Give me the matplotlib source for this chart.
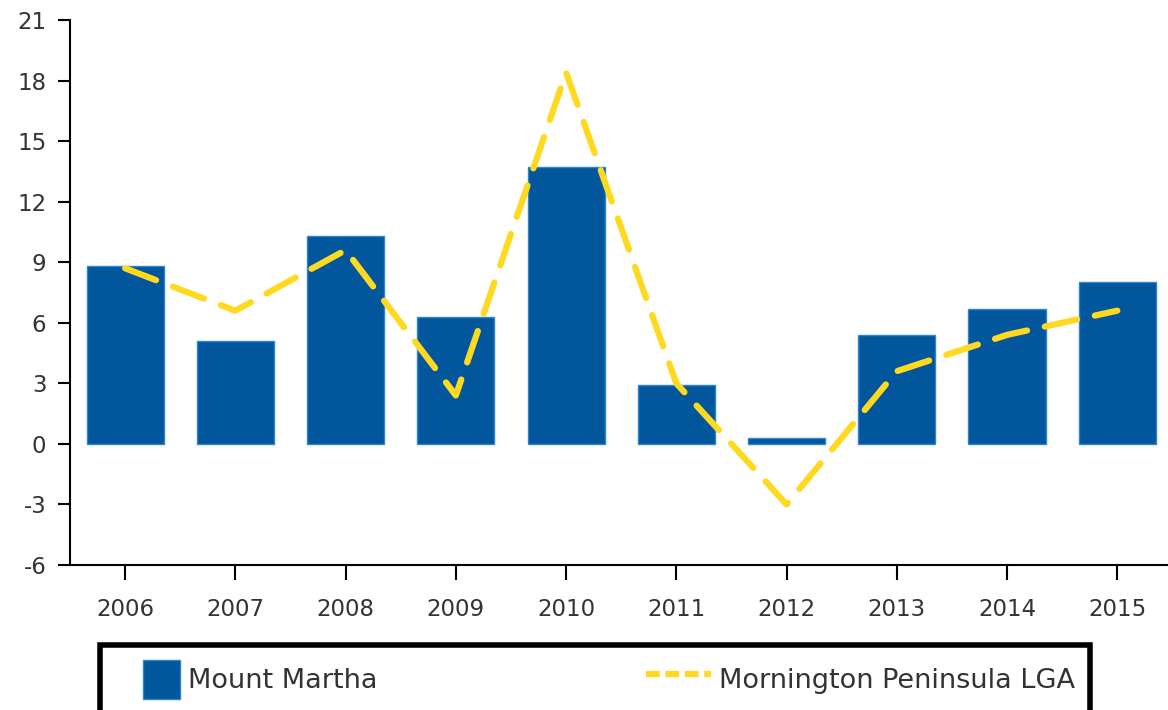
import numpy as np
import matplotlib
matplotlib.use("Agg")
import matplotlib.pyplot as plt
from matplotlib.patches import Patch, Rectangle
from matplotlib.lines import Line2D
from matplotlib.legend_handler import HandlerPatch

plt.rcParams["axes.unicode_minus"] = False

# ---- data --------------------------------------------------------------------
years = ["2006", "2007", "2008", "2009", "2010", "2011", "2012", "2013", "2014", "2015"]
mount_martha = [8.8, 5.1, 10.3, 6.3, 13.7, 2.9, 0.3, 5.4, 6.7, 8.0]
mornington_lga = [8.7, 6.6, 9.6, 2.4, 18.4, 3.0, -3.0, 3.6, 5.4, 6.6]
yticks = [-6, -3, 0, 3, 6, 9, 12, 15, 18, 21]

BAR_C = "#02579c"
BAR_EDGE = "#2d86d2"
LINE_C = "#ffd91f"
TXT_C = "#333333"

fig = plt.figure(figsize=(11.68, 7.10), dpi=100)
ax = fig.add_axes([70/1168, 1-565/710, 1-70/1168, (565-20)/710])

x = np.arange(len(years))
ax.bar(x, mount_martha, width=0.7, color=BAR_C, edgecolor=BAR_EDGE, linewidth=1.0, zorder=2)
ax.plot(x, mornington_lga, color=LINE_C, lw=4.5, dashes=(5.3, 2.9),
        dash_capstyle="round", solid_joinstyle="round", zorder=3)

ax.set_xlim(-0.5, 9.46)
ax.set_ylim(-6, 21)
ax.set_yticks(yticks)
ax.set_xticks(x)
ax.set_xticklabels(years)

for s in ("top", "right"):
    ax.spines[s].set_visible(False)
for s in ("left", "bottom"):
    ax.spines[s].set_linewidth(1.5)
ax.tick_params(axis="y", length=9, width=1.5, pad=8, labelsize=16.5, labelcolor=TXT_C)
ax.tick_params(axis="x", length=11, width=1.5, pad=13, labelsize=16.5, labelcolor=TXT_C)


# square-ish swatch sitting at the right of the (wider) handle box
def swatch(legend, orig_handle, xdescent, ydescent, width, height, fontsize):
    w = height * 0.95
    return Rectangle((-xdescent + width - w, -ydescent), w, height)


handles = [Patch(facecolor=BAR_C, edgecolor=BAR_EDGE, label="Mount Martha"),
           Line2D([], [], color=LINE_C, lw=4.5, dashes=(2.2, 0.9), label="Mornington Peninsula LGA")]
leg = fig.legend(handles=handles, loc="upper left", ncol=2, mode="expand",
                 bbox_to_anchor=(100/1168, 1-645/710, 990/1168, 0.0),
                 fontsize=19.5, frameon=True, fancybox=False, framealpha=1.0,
                 borderpad=0.55, handlelength=2.4, handleheight=1.85, handletextpad=0.3,
                 borderaxespad=0.0, handler_map={Patch: HandlerPatch(patch_func=swatch)})
leg.get_frame().set_edgecolor("black")
leg.get_frame().set_linewidth(4)
for t in leg.get_texts():
    t.set_color(TXT_C)

fig.savefig("out.png", dpi=100)
